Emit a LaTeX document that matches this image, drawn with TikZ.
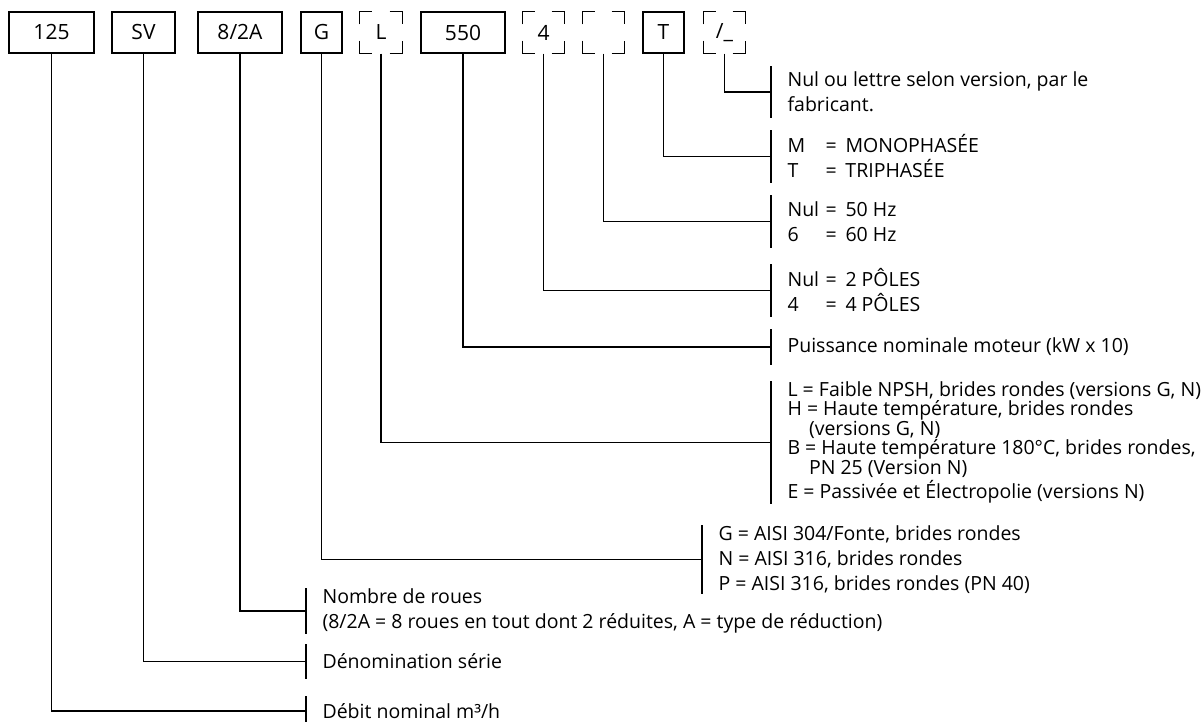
\documentclass[tikz,border=0pt]{standalone}
\usepackage{fontspec}
\setmainfont{Open Sans}
\usetikzlibrary{positioning}
\tikzset{code/.style = {draw, inner sep = 0, minimum height = 41, font = \fontsize{21}{24}\selectfont}}
\tikzset{opencode/.style = {inner sep = 0, minimum height = 41, font = \fontsize{21}{24}\selectfont}}
\tikzset{desc/.style = {anchor = west, align = left, inner xsep = 16, inner ysep = 0, font = \fontsize{19.5}{25}\selectfont}}
\newcommand{\eqrow}[2]{\makebox[1.95em][l]{#1}=\hspace{0.45em}#2}

\begin{document}
\begin{tikzpicture}[x=1pt, y=-1pt, line width=1.1pt]
    \useasboundingbox (0,0) rectangle (1204,722);
    % code boxes
    \node[code, minimum width = 85] (b125) at (51.5,32.5) {125};
    \node[code, minimum width = 63] (bSV) at (143.5,32.5) {SV};
    \node[code, minimum width = 84] (b82A) at (240,32.5) {8/2A};
    \node[code, minimum width = 41] (bG) at (321.5,32.5) {G};
    \node[opencode, minimum width = 42] (bL) at (381,32.5) {L};
    \node[code, minimum width = 84] (b550) at (463,32.5) {550};
    \node[opencode, minimum width = 41] (b4) at (543.5,32.5) {4};
    \node[opencode, minimum width = 41] (bHz) at (603.5,32.5) {};
    \node[code, minimum width = 41] (bT) at (663.5,32.5) {T};
    \node[opencode, minimum width = 41] (bVer) at (724.5,32.5) {/\_};
    \foreach \n in {bL, b4, bHz, bVer} {
        \draw ([yshift=-13pt]\n.north west) |- ([xshift=13pt]\n.north west);
        \draw ([xshift=-13pt]\n.north east) -| ([yshift=-13pt]\n.north east);
        \draw ([yshift=13pt]\n.south west) |- ([xshift=13pt]\n.south west);
        \draw ([xshift=-13pt]\n.south east) -| ([yshift=13pt]\n.south east);
    }
    % descriptions
    \node[desc, minimum height = 50] (dVer) at (771,92) {Nul ou lettre selon version, par le\\fabricant.};
    \node[desc, minimum height = 51] (dT) at (771,156.5) {\eqrow{M}{MONOPHASÉE}\\\eqrow{T}{TRIPHASÉE}};
    \node[desc, minimum height = 51] (dHz) at (771,221.5) {\eqrow{Nul}{50 Hz}\\\eqrow{6}{60 Hz}};
    \node[desc, minimum height = 51] (d4) at (771,290.5) {\eqrow{Nul}{2 PÔLES}\\\eqrow{4}{4 PÔLES}};
    \node[desc, minimum height = 34] (d550) at (771,347) {Puissance nominale moteur (kW x 10)};
    \node[desc, minimum height = 119, font = \fontsize{19.5}{18.8}\selectfont] (dL) at (771,442.5)
        {L = Faible NPSH, brides rondes (versions G, N)\\
         H = Haute température, brides rondes\\
         \hspace*{1.1em}(versions G, N)\\
         B = Haute température 180°C, brides rondes,\\
         \hspace*{1.1em}PN 25 (Version N)\\[2pt]
         E = Passivée et Électropolie (versions N)};
    \node[desc, minimum height = 67] (dG) at (702,559.5)
        {G = AISI 304/Fonte, brides rondes\\
         N = AISI 316, brides rondes\\
         P = AISI 316, brides rondes (PN 40)};
    \node[desc, minimum height = 42] (d82A) at (306,611)
        {Nombre de roues\\(8/2A = 8 roues en tout dont 2 réduites, A = type de réduction)};
    \node[desc, minimum height = 33] (dSV) at (306,661.5) {Dénomination série};
    \node[desc, minimum height = 28] (d125) at (306,711) {Débit nominal m³/h};
    \foreach \d in {dVer, dT, dHz, d4, d550, dL, dG, d82A, dSV, d125} {
        \draw (\d.north west) -- (\d.south west); % bar
    }
    % connectors
    \draw (bVer.south) |- (dVer.west);
    \draw (bT.south) |- (dT.west);
    \draw (bHz.south) |- (dHz.west);
    \draw (b4.south) |- (d4.west);
    \draw (b550.south) |- (d550.west);
    \draw (bL.south) |- (dL.west);
    \draw (bG.south) |- (dG.west);
    \draw (b82A.south) |- (d82A.west);
    \draw (bSV.south) |- (dSV.west);
    \draw (b125.south) |- (d125.west);
\end{tikzpicture}
\end{document}
